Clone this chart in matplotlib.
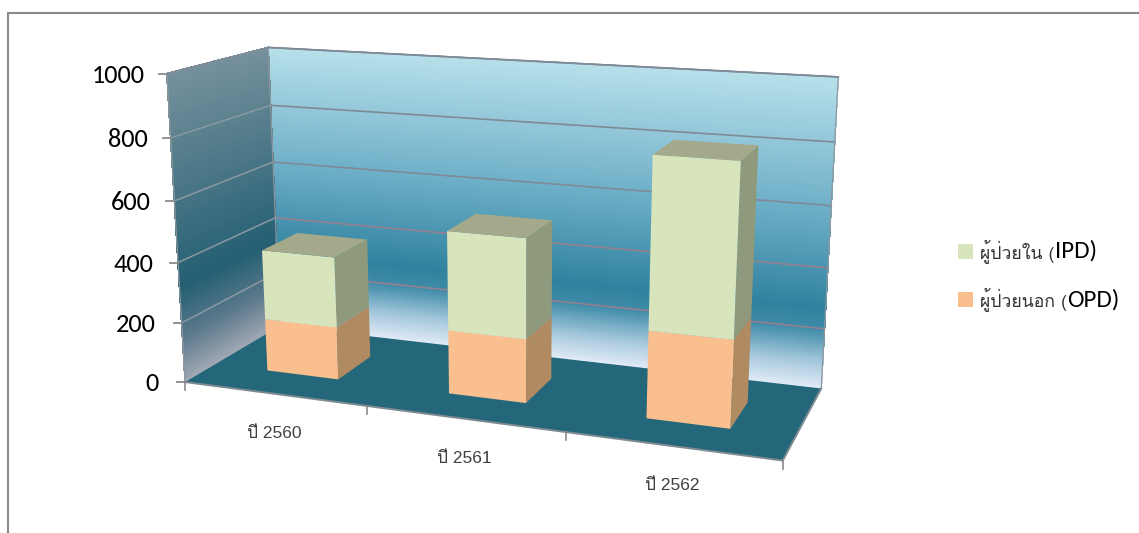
import numpy as np
import matplotlib
matplotlib.use("Agg")
import matplotlib.pyplot as plt
from matplotlib.collections import PolyCollection
from matplotlib.colors import LinearSegmentedColormap
from matplotlib.patches import Polygon, Rectangle

years = ["ปี 2560", "ปี 2561", "ปี 2562"]
opd = [177, 209, 279]
ipd = [233, 321, 535]
yticks = [0, 200, 400, 600, 800, 1000]
series_names = ["ผู้ป่วยใน (", "ผู้ป่วยนอก ("]
series_codes = ["IPD)", "OPD)"]

THAI = ["Loma", "DejaVu Sans"]
LATIN = ["Carlito", "DejaVu Sans"]

# where the corners of the 3d box land in the picture, used to fit the camera
box_world = [(0, 0, 0), (0, 1, 0), (3, 1, 0), (3, 0, 0), (0, 0, 1000), (0, 1, 1000), (3, 1, 1000)]
box_pixels = [(185, 382), (280, 326), (821.3, 388.3), (782.7, 460.7), (167, 73.5), (268, 47.5), (838.3, 77)]


def fitCamera(world, pixels):
    rows = []
    for (x, y, z), (u, v) in zip(world, pixels):
        p = [x, y, z / 1000, 1]
        rows.append(p + [0, 0, 0, 0] + [-u * c for c in p])
        rows.append([0, 0, 0, 0] + p + [-v * c for c in p])
    return np.linalg.svd(np.array(rows))[2][-1].reshape(3, 4)


cam = fitCamera(box_world, box_pixels)


def project(x, y, z):
    u, v, w = cam @ np.array([x, y, z / 1000, 1])
    return (u / w, v / w)


def drawWall(start, end, cmap):
    zs = np.linspace(0, 1000, 401)
    polys = []
    cols = []
    for z0, z1 in zip(zs[:-1], zs[1:]):
        polys.append([project(*start, z0), project(*end, z0), project(*end, z1), project(*start, z1)])
        cols.append(cmap((z0 + z1) / 2000))
    ax.add_collection(PolyCollection(polys, facecolors=cols, edgecolors="face", linewidths=0.6, antialiaseds=False, zorder=2))


def drawBlock(i, z0, z1, front, side, top):
    x0, x1 = i + 0.3, i + 0.7
    y0, y1 = 0.3, 0.68
    ax.add_patch(Polygon([project(x1, y0, z0), project(x1, y1, z0), project(x1, y1, z1), project(x1, y0, z1)], facecolor=side, edgecolor="none", zorder=5))
    ax.add_patch(Polygon([project(x0, y0, z0), project(x1, y0, z0), project(x1, y0, z1), project(x0, y0, z1)], facecolor=front, edgecolor="none", zorder=6))
    if top:
        ax.add_patch(Polygon([project(x0, y0, z1), project(x1, y0, z1), project(x1, y1, z1), project(x0, y1, z1)], facecolor=top, edgecolor="none", zorder=6))


fig = plt.figure(figsize=(11.39, 5.33), dpi=100)
ax = fig.add_axes([0, 0, 1, 1])
ax.set_xlim(0, 1139)
ax.set_ylim(533, 0)
ax.axis("off")

ax.plot([8, 8, 1139], [533, 13, 13], color="#8a8a8a", lw=1.5, zorder=1, solid_joinstyle="miter")

back_colors = LinearSegmentedColormap.from_list("back", [(0, "#e2ebf7"), (0.09, "#a5c8dc"), (0.2, "#3f8ba8"), (0.27, "#2f829f"), (0.6, "#6fb0c8"), (1, "#b6dfea")])
side_colors = LinearSegmentedColormap.from_list("side", [(0, "#a3a9b5"), (0.15, "#5c7a8c"), (0.32, "#245f73"), (1, "#74909c")])
drawWall((0, 1), (3, 1), back_colors)
drawWall((0, 0), (0, 1), side_colors)

floor = [project(0, 0, 0), project(0, 1, 0), project(3, 1, 0), project(3, 0, 0)]
ax.add_patch(Polygon(floor, closed=True, facecolor="#24667a", edgecolor="none", zorder=3))

for t in yticks[1:]:
    a = project(0, 0, t)
    b = project(0, 1, t)
    c = project(3, 1, t)
    col = "#93808f" if t < 500 else "#7f8a96"
    ax.plot([a[0], b[0]], [a[1], b[1]], color="#8a98a2", lw=1.1, zorder=4)
    ax.plot([b[0], c[0]], [b[1], c[1]], color=col, lw=1.2, zorder=4)

# edges and ticks
for p, q in [((0, 0, 0), (0, 0, 1000)), ((0, 1, 0), (0, 1, 1000)), ((3, 1, 0), (3, 1, 1000))]:
    a = project(*p)
    b = project(*q)
    ax.plot([a[0], b[0]], [a[1], b[1]], color="#8f979e", lw=0.9, zorder=4)
a = project(0, 1, 1000)
b = project(3, 1, 1000)
ax.plot([a[0], b[0]], [a[1], b[1]], color="#7f8a96", lw=1.2, zorder=4)
a = project(0, 0, 1000)
b = project(0, 1, 1000)
ax.plot([a[0], b[0]], [a[1], b[1]], color="#7f8a96", lw=0.9, zorder=4)
a = project(0, 0, 0)
b = project(3, 0, 0)
c = project(3, 1, 0)
ax.plot([a[0], b[0], c[0]], [a[1], b[1], c[1]], color="#7d8a90", lw=1.4, zorder=4)
for t in yticks:
    a = project(0, 0, t)
    ax.plot([a[0] - 8, a[0]], [a[1], a[1]], color="#8a8a8a", lw=1.3, zorder=4)
    ax.text(a[0] - 26.5 + 0.004 * t, a[1] + 1.5, str(t), ha="right", va="center", fontsize=19, family=LATIN, color="black")
for i in range(4):
    a = project(i, 0, 0)
    ax.plot([a[0], a[0]], [a[1], a[1] + 8], color="#8a8a8a", lw=1.2, zorder=4)
for i in range(3):
    a = project(i + 0.5, 0, 0)
    ax.text(a[0], a[1] + 40, years[i], ha="center", va="center", fontsize=12.5, family=["Liberation Sans", "Loma"], color="#404040")

for i in range(3):
    drawBlock(i, 0, opd[i], "#fabf8f", "#b08a60", None)
    drawBlock(i, opd[i], opd[i] + ipd[i], "#d7e4bc", "#8f9a7c", "#a3a98a")

for y0, c, name, code, base in [(244, "#d7e4bc", series_names[0], series_codes[0], 258), (292, "#fabf8f", series_names[1], series_codes[1], 306.5)]:
    ax.add_patch(Rectangle((958, y0), 15, 15, facecolor=c, edgecolor="none"))
    t = ax.text(980, base, name, ha="left", va="baseline", fontsize=12.7, family=THAI, color="#333333")
    fig.canvas.draw()
    e = t.get_window_extent()
    ax.text(e.x1 + 0.5, base, code, ha="left", va="baseline", fontsize=18, family=LATIN, color="black")

fig.savefig("out.png")
